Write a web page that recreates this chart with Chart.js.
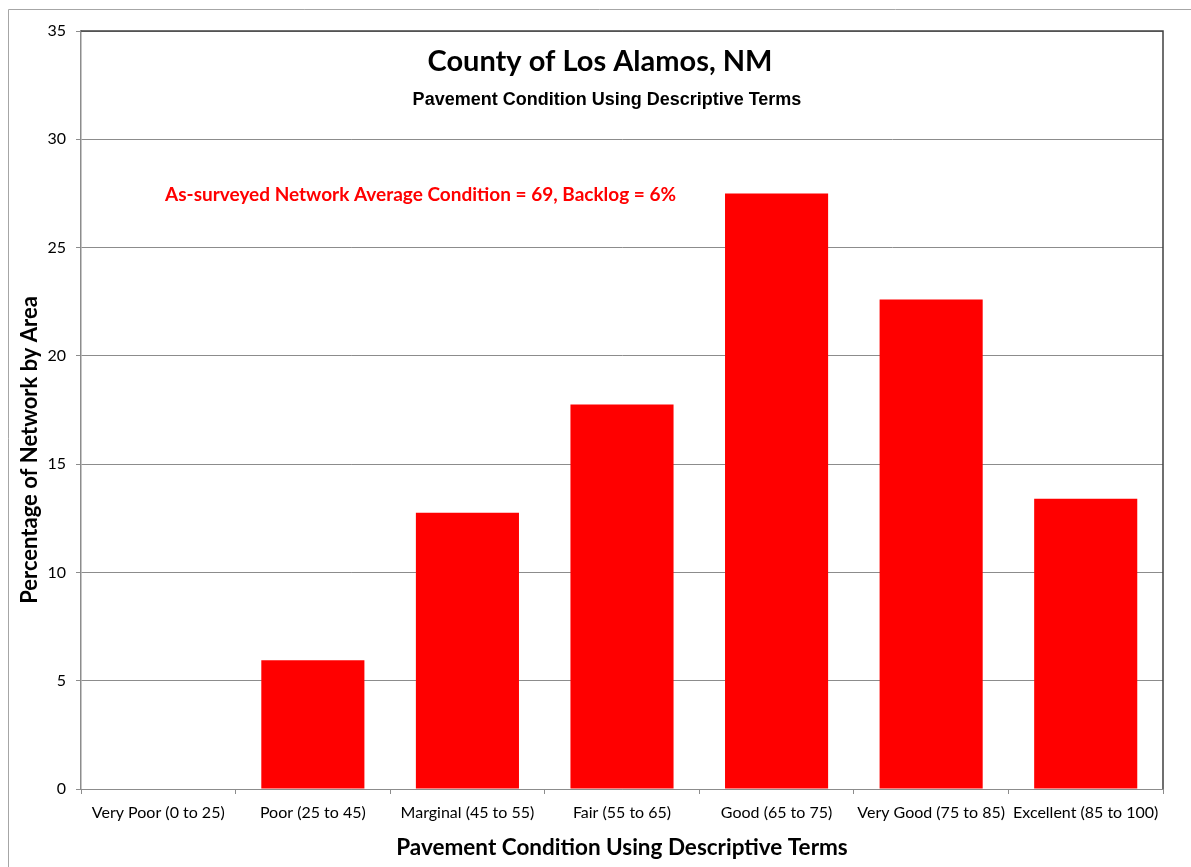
<!DOCTYPE html>
<html>
<head>
<meta charset="utf-8">
<script src="https://cdn.jsdelivr.net/npm/chart.js@4/dist/chart.umd.min.js"></script>
<style>
  html, body { margin: 0; padding: 0; background: #fff; }
  #wrap { width: 1191px; height: 867px; position: relative; }
</style>
</head>
<body>
<div id="wrap"><canvas id="pciChart"></canvas></div>
<script>
const categories = ['Very Poor (0 to 25)', 'Poor (25 to 45)', 'Marginal (45 to 55)', 'Fair (55 to 65)',
    'Good (65 to 75)', 'Very Good (75 to 85)', 'Excellent (85 to 100)'];
const percentByArea = [0, 5.95, 12.75, 17.75, 27.5, 22.6, 13.4];
const yTicks = [0, 5, 10, 15, 20, 25, 30, 35];

const chartTitle = 'County of Los Alamos, NM';
const chartSubtitle = 'Pavement Condition Using Descriptive Terms';
const note = 'As-surveyed Network Average Condition = 69, Backlog = 6%';
const yTitle = 'Percentage of Network by Area';

// texts inside the plot + outer frame
const overlay = {
    id: 'overlay',
    beforeDraw(chart) {
        const c = chart.ctx;
        c.save();
        c.strokeStyle = '#a6a6a6';
        c.lineWidth = 1;
        c.beginPath();
        c.moveTo(8.5, 867);
        c.lineTo(8.5, 9.5);
        c.lineTo(1191, 9.5);
        c.stroke();
        c.restore();
    },
    afterDraw(chart) {
        const c = chart.ctx;
        const a = chart.chartArea;
        c.save();
        c.strokeStyle = '#404040';
        c.lineWidth = 1.5;
        c.beginPath();
        c.moveTo(a.left, a.top);
        c.lineTo(a.right, a.top);
        c.lineTo(a.right, a.bottom);
        c.stroke();

        c.textAlign = 'center';
        c.textBaseline = 'middle';
        c.fillStyle = '#000';
        c.font = 'bold 29px Lato';
        c.fillText(chartTitle, 600, 62);
        c.font = 'bold 18px "Liberation Sans"';
        c.fillText(chartSubtitle, 607, 100);

        c.save();
        c.translate(30, 450);
        c.rotate(-Math.PI / 2);
        c.font = 'bold 22px Lato';
        c.fillText(yTitle, 0, 0);
        c.restore();

        c.fillStyle = '#ff0000';
        c.font = 'bold 19px Lato';
        c.textAlign = 'left';
        c.fillText(note, 165, 195);
        c.restore();
    }
};

new Chart(document.getElementById('pciChart').getContext('2d'), {
    type: 'bar',
    data: {
        labels: categories,
        datasets: [{
            data: percentByArea,
            backgroundColor: '#ff0000',
            borderWidth: 0,
            barPercentage: 0.667,
            categoryPercentage: 1.0
        }]
    },
    options: {
        responsive: true,
        maintainAspectRatio: false,
        animation: false,
        layout: { padding: { left: 0, top: 31, right: 28, bottom: 0 } },
        plugins: {
            legend: { display: false },
            tooltip: { enabled: false }
        },
        scales: {
            x: {
                grid: { offset: true, drawOnChartArea: false, drawTicks: true, tickLength: 5, color: '#8c8c8c' },
                border: { color: '#8c8c8c', width: 1 },
                ticks: { color: '#000', font: { family: 'Lato', size: 16 }, maxRotation: 0, autoSkip: false, padding: 9 },
                title: {
                    display: true,
                    text: 'Pavement Condition Using Descriptive Terms',
                    color: '#000',
                    font: { family: 'Lato', size: 22.5, weight: 'bold' },
                    padding: { top: 0, bottom: 6 }
                },
                afterFit(scale) { scale.height = 78; }
            },
            y: {
                min: 0,
                max: 35,
                afterBuildTicks(scale) { scale.ticks = yTicks.map(v => ({ value: v })); },
                grid: { color: '#8c8c8c', tickLength: 5, lineWidth: 1 },
                border: { color: '#8c8c8c', width: 1.5 },
                ticks: { color: '#000', font: { family: 'Lato', size: 16 }, padding: 10 },
                afterFit(scale) { scale.width = 81; }
            }
        }
    },
    plugins: [overlay]
});
</script>
</body>
</html>
